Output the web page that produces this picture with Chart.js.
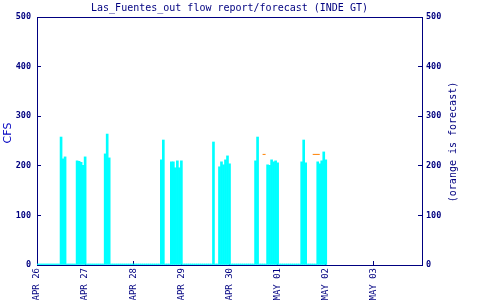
<!DOCTYPE html>
<html><head><meta charset="utf-8">
<script src="https://cdn.jsdelivr.net/npm/chart.js@4"></script>
<style>html,body{margin:0;padding:0;background:#fff}#wrap{width:500px;height:300px}</style>
</head><body><div id="wrap"><canvas id="c"></canvas></div>
<script>
const chartTitle = 'Las_Fuentes_out flow report/forecast (INDE GT)';
const leftAxisTitle = 'CFS';
const rightAxisTitle = '(orange is forecast)';
const dayLabels = ['APR 26','APR 27','APR 28','APR 29','APR 30','MAY 01','MAY 02','MAY 03'];
const yTicks = [0,100,200,300,400,500];
// hours after APR 26 00:00
const obsHours  = [12,13,14, 20,21,22,23,24, 34,35,36, 62,63, 67,68,69,70,71,72, 88, 91,92,93,94,95,96, 109,110, 115,116,117,118,119,120, 132,133,134, 140,141,142,143,144];
const obsValues = [258,214,218, 210,209,207,201,218, 224,264,216, 212,252, 208,208,196,210,196,210, 248, 198,208,202,212,220,204, 210,258, 202,201,212,208,210,206, 208,252,206, 208,204,210,228,212];
const obsLastHour = 144;
const fcStartHours = [112.5, 137.5];
const fcEndHours   = [114, 141];
const fcValues     = [223, 223];

const NAVY = '#000080';
const MONO = 'DejaVu Sans Mono';

const obsData = [];
for (let h = 0; h <= obsLastHour; h++) {
  const i = obsHours.indexOf(h);
  obsData.push({x: h, y: i >= 0 ? obsValues[i] : 0});
}
const fcData = [];
fcStartHours.forEach((s, i) => {
  if (i > 0) fcData.push({x: s, y: null});
  fcData.push({x: s, y: fcValues[i]}, {x: fcEndHours[i], y: fcValues[i]});
});

const sideTitlePlugin = {
  id: 'sideTitles',
  afterDraw(chart) {
    const {ctx, chartArea} = chart;
    const mid = (chartArea.top + chartArea.bottom) / 2;
    ctx.save();
    ctx.textAlign = 'center';
    ctx.textBaseline = 'middle';
    // right axis title
    ctx.fillStyle = NAVY;
    ctx.font = '10px "' + MONO + '"';
    ctx.save();
    ctx.translate(chart.scales.y2.left + 31, mid + 1);
    ctx.rotate(-Math.PI / 2);
    ctx.fillText(rightAxisTitle, 0, 0);
    ctx.restore();
    // left axis title
    ctx.fillStyle = '#0000c0';
    ctx.font = '11px "DejaVu Sans"';
    ctx.translate(chart.scales.y.left + 8, mid - 8);
    ctx.rotate(-Math.PI / 2);
    ctx.fillText(leftAxisTitle, 0, 0);
    ctx.restore();
  }
};

const yTickFont = {family: MONO, size: 8.5, weight: 'bold'};
const xMax = dayLabels.length * 24;

new Chart(document.getElementById('c'), {
  type: 'bar',
  data: {
    datasets: [
      {type: 'line', data: fcData, borderColor: '#ff8000', borderWidth: 1, pointRadius: 0, spanGaps: false, order: 0, xAxisID: 'x', yAxisID: 'y'},
      {type: 'bar', data: obsData, backgroundColor: '#00ffff', borderWidth: 0, barPercentage: 1, categoryPercentage: 1, minBarLength: 1, order: 1, xAxisID: 'x', yAxisID: 'y'}
    ]
  },
  options: {
    responsive: true,
    maintainAspectRatio: false,
    animation: false,
    layout: {padding: 0},
    plugins: {
      legend: {display: false},
      tooltip: {enabled: false},
      title: {display: true, text: chartTitle, color: NAVY, fullSize: false,
              font: {family: MONO, size: 10, weight: 'normal'}, padding: {top: 2, bottom: 3}}
    },
    scales: {
      x: {
        type: 'linear', position: 'bottom', min: 0, max: xMax, offset: false,
        grid: {display: true, drawOnChartArea: false, drawTicks: true, tickLength: -4, color: NAVY, offset: false},
        border: {display: true, color: NAVY, width: 1},
        ticks: {autoSkip: false, maxRotation: 90, minRotation: 90, padding: 7, color: NAVY,
                font: {family: MONO, size: 9}, callback: (v, i) => dayLabels[i]},
        afterBuildTicks: s => { s.ticks = dayLabels.map((_, i) => ({value: i * 24})); },
        afterFit: s => { s.height = 35; }
      },
      xTop: {
        type: 'linear', position: 'top', min: 0, max: xMax, offset: false,
        grid: {display: true, drawOnChartArea: false, drawTicks: false},
        border: {display: true, color: NAVY, width: 1},
        ticks: {display: false},
        afterFit: s => { s.height = 0; }
      },
      y: {
        position: 'left', min: 0, max: 500,
        grid: {display: true, drawOnChartArea: false, tickLength: -4, color: NAVY},
        border: {display: true, color: NAVY, width: 1},
        ticks: {padding: 10, color: NAVY, font: yTickFont},
        afterBuildTicks: s => { s.ticks = yTicks.map(v => ({value: v})); },
        afterFit: s => { s.width = 37; }
      },
      y2: {
        position: 'right', min: 0, max: 500,
        grid: {display: true, drawOnChartArea: false, tickLength: -4, color: NAVY},
        border: {display: true, color: NAVY, width: 1},
        ticks: {padding: 8, color: NAVY, font: yTickFont},
        afterBuildTicks: s => { s.ticks = yTicks.map(v => ({value: v})); },
        afterFit: s => { s.width = 78; }
      }
    }
  },
  plugins: [sideTitlePlugin]
});
</script>
</body></html>
